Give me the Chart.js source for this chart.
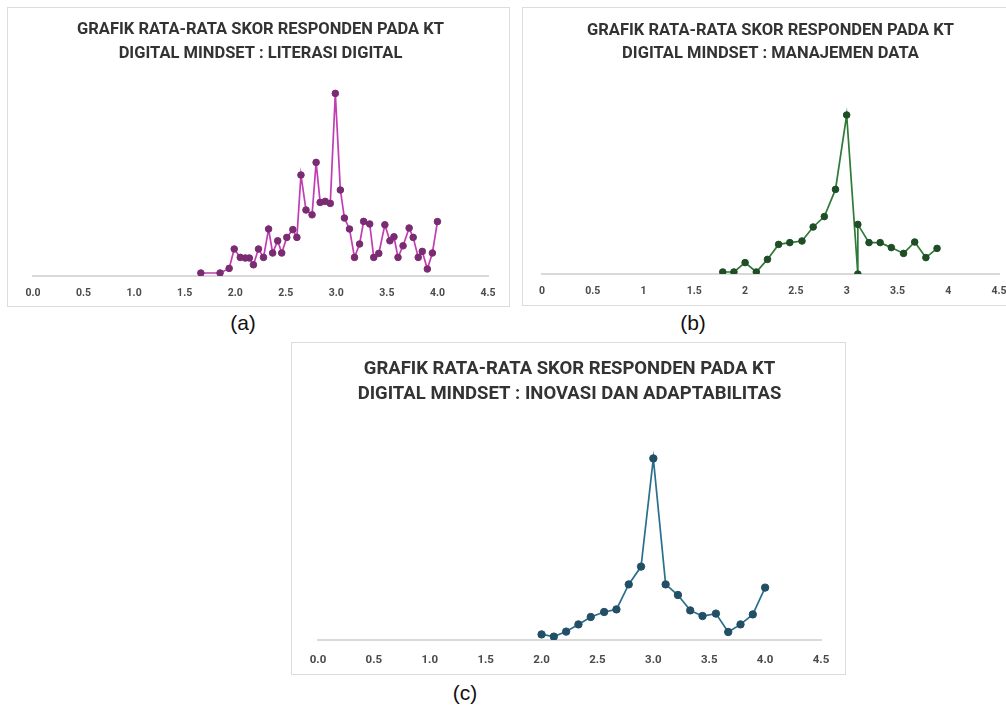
<!DOCTYPE html>
<html>
<head>
<meta charset="utf-8">
<script src="https://cdn.jsdelivr.net/npm/chart.js@4/dist/chart.umd.min.js"></script>
<style>
  html, body { margin: 0; padding: 0; background: #ffffff; width: 1006px; height: 709px; overflow: hidden; }
  .frame { position: absolute; border: 1px solid #dcdcdc; box-sizing: border-box; background: #fff; }
  .frame canvas { position: absolute; left: 0; top: 0; }
  .lab { position: absolute; font-family: "Liberation Sans Narrow", "Liberation Sans", Arial, sans-serif; font-size: 21px; color: #111; transform: translate(-50%, -50%); }
</style>
</head>
<body>
<div class="frame" id="fa" style="left:7px;top:7px;width:503px;height:300px;"><canvas id="ca" width="503" height="300"></canvas></div>
<div class="frame" id="fb" style="left:522px;top:7px;width:486px;height:299px;"><canvas id="cb" width="486" height="299"></canvas></div>
<div class="frame" id="fc" style="left:291px;top:342px;width:555px;height:333px;"><canvas id="cc" width="555" height="333"></canvas></div>
<div class="lab" style="left:243px;top:323px;">(a)</div>
<div class="lab" style="left:693px;top:323px;">(b)</div>
<div class="lab" style="left:465px;top:693px;">(c)</div>
<script>
// ---- Data ----
const titleA = ["GRAFIK RATA-RATA SKOR RESPONDEN PADA KT", "DIGITAL MINDSET : LITERASI DIGITAL"];
const titleB = ["GRAFIK RATA-RATA SKOR RESPONDEN PADA KT", "DIGITAL MINDSET : MANAJEMEN DATA"];
const titleC = ["GRAFIK RATA-RATA SKOR RESPONDEN PADA KT", "DIGITAL MINDSET : INOVASI DAN ADAPTABILITAS"];

const xTicks = [0, 0.5, 1, 1.5, 2, 2.5, 3, 3.5, 4, 4.5];

const scoresA = [1.66, 1.85, 1.94, 1.99, 2.05, 2.10, 2.14, 2.18, 2.23, 2.28, 2.33, 2.37, 2.42, 2.46, 2.51, 2.57, 2.61, 2.65, 2.70, 2.76, 2.80, 2.84, 2.89, 2.94, 2.99, 3.04, 3.08, 3.13, 3.18, 3.23, 3.27, 3.33, 3.37, 3.42, 3.48, 3.53, 3.57, 3.61, 3.66, 3.72, 3.76, 3.81, 3.85, 3.90, 3.95, 4.00];
const valuesA = [1.5, 1.5, 3.8, 13.5, 9.3, 9, 9, 5.6, 13.5, 9.3, 23.5, 11.5, 17.6, 11.5, 19.3, 23.2, 19.3, 50.5, 33, 30.6, 56.8, 36.8, 37.3, 36.3, 91.3, 43, 29, 23.5, 9.3, 16, 27.3, 26, 9.3, 11.3, 25.6, 17.6, 19.6, 9.3, 15.1, 24, 19.3, 9.3, 12.3, 3.5, 11.5, 27.2];

const scoresB = [1.78, 1.89, 2.00, 2.11, 2.22, 2.33, 2.44, 2.56, 2.67, 2.78, 2.89, 3.00, 3.11, 3.11, 3.22, 3.33, 3.44, 3.56, 3.67, 3.78, 3.89];
const valuesB = [1, 1, 5.7, 1, 7.3, 14.8, 15.7, 16.5, 23.5, 28.7, 42.3, 79.5, 0, 24.8, 15.7, 15.7, 13.2, 10.3, 16, 8.2, 12.8];

const scoresC = [2.00, 2.11, 2.22, 2.33, 2.44, 2.56, 2.67, 2.78, 2.89, 3.00, 3.11, 3.22, 3.33, 3.44, 3.56, 3.67, 3.78, 3.89, 4.00];
const valuesC = [2.8, 1.7, 4.2, 7.8, 11.5, 14, 15.3, 27.8, 36.7, 90.8, 27.8, 22.5, 14.8, 12, 13.2, 4, 7.8, 12.8, 26.2];

// ---- Chart builder ----
function makeChart(id, cfg) {
  const pts = cfg.x.map((v, i) => ({ x: v, y: cfg.y[i] }));
  return new Chart(document.getElementById(id), {
    type: 'line',
    data: {
      datasets: [{
        data: pts,
        borderColor: cfg.line,
        borderWidth: 1.7,
        pointRadius: cfg.r,
        pointHoverRadius: cfg.r,
        pointBackgroundColor: cfg.marker,
        pointBorderColor: cfg.marker,
        pointBorderWidth: 1,
        tension: 0,
        fill: false
      }]
    },
    options: {
      responsive: false,
      animation: false,
      events: [],
      layout: { padding: { left: cfg.padL, right: cfg.padR, top: 0, bottom: 0 } },
      plugins: {
        legend: { display: false },
        tooltip: { enabled: false },
        title: {
          display: true,
          text: cfg.title,
          color: '#333333',
          font: { family: 'Roboto', weight: 'bold', size: cfg.tSize, lineHeight: cfg.tLine / cfg.tSize },
          padding: { top: cfg.tTop, bottom: cfg.tBottom }
        }
      },
      scales: {
        x: {
          type: 'linear',
          min: 0, max: 4.5,
          afterBuildTicks: (s) => { s.ticks = xTicks.map(v => ({ value: v })); },
          afterFit: (s) => { s.height = cfg.axisH; s.paddingLeft = 0; s.paddingRight = 0; },
          grid: { display: false, drawTicks: false },
          border: { display: true, color: '#d9d9d9', width: 2 },
          ticks: {
            padding: cfg.tickPad,
            color: '#4a4a4a',
            font: { family: 'Roboto', weight: 'bold', size: cfg.fSize },
            maxRotation: 0,
            autoSkip: false,
            callback: cfg.fmt
          }
        },
        y: {
          display: false,
          min: 0, max: 100
        }
      }
    }
  });
}

makeChart('ca', {
  x: scoresA, y: valuesA, title: titleA,
  line: '#c23db3', marker: '#7a2c72', r: 3.3,
  padL: 25, padR: 23, axisH: 32, tickPad: 11, fSize: 10.5,
  tSize: 16.5, tLine: 24, tTop: 10, tBottom: 10,
  fmt: (v) => Number(v).toFixed(1)
});
makeChart('cb', {
  x: scoresB, y: valuesB, title: titleB,
  line: '#2f7a36', marker: '#1f4d26', r: 3.3,
  padL: 19, padR: 10, axisH: 33, tickPad: 11, fSize: 10.5,
  tSize: 16.5, tLine: 23, tTop: 11, tBottom: 9,
  fmt: (v) => String(v)
});
makeChart('cc', {
  x: scoresC, y: valuesC, title: titleC,
  line: '#2b6f8f', marker: '#224e66', r: 3.7,
  padL: 26, padR: 26, axisH: 36, tickPad: 13, fSize: 11.5,
  tSize: 18.5, tLine: 25, tTop: 13.5, tBottom: 33.5,
  fmt: (v) => Number(v).toFixed(1)
});
</script>
</body>
</html>
